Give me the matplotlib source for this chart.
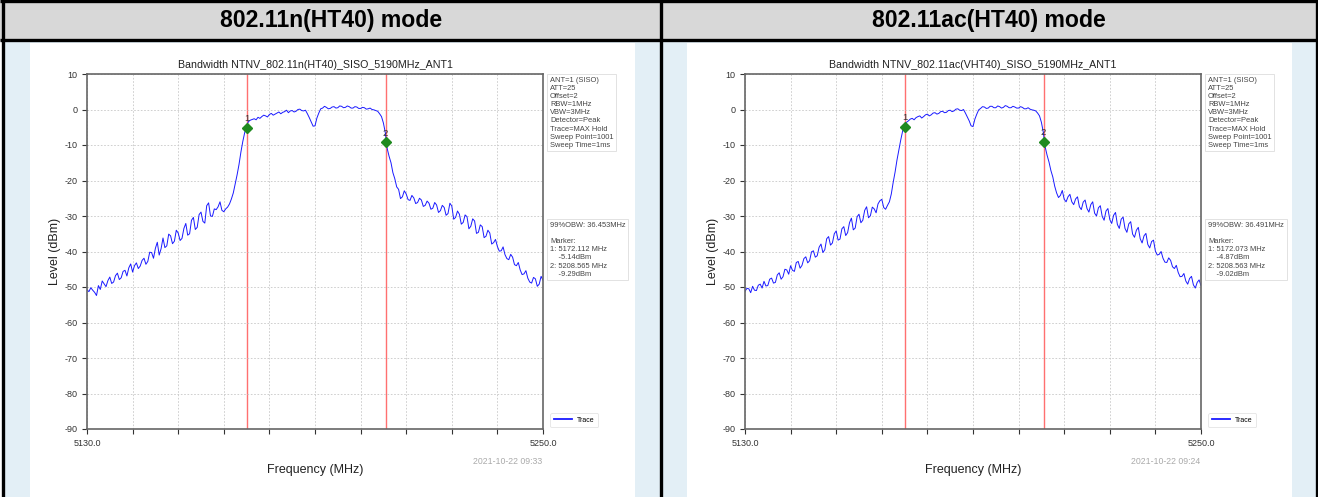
import numpy as np
import matplotlib
matplotlib.use("Agg")
import matplotlib.pyplot as plt
from matplotlib.patches import Rectangle

plt.rcParams['font.family'] = ['Liberation Sans', 'DejaVu Sans']
plt.rcParams['axes.unicode_minus'] = False

W, H = 1318, 497

# ---- data -------------------------------------------------------------
headers = ["802.11n(HT40) mode", "802.11ac(HT40) mode"]
titles = ["Bandwidth NTNV_802.11n(HT40)_SISO_5190MHz_ANT1",
          "Bandwidth NTNV_802.11ac(VHT40)_SISO_5190MHz_ANT1"]
timestamps = ["2021-10-22 09:33", "2021-10-22 09:24"]

# trace sampled every 0.5 MHz from 5130 to 5250 MHz
freq = np.arange(5130, 5250.01, 0.5)

level_n = [
    -50.8, -51.3, -50.2, -50.9, -51.5, -52.4, -49.6, -50.7, -48.3, -49.1,
    -49.9, -48.2, -47.2, -49.0, -48.6, -46.8, -46.1, -47.9, -47.4, -45.6,
    -45.3, -46.9, -44.6, -43.5, -45.8, -44.0, -43.2, -44.8, -44.1, -42.5,
    -41.9, -43.6, -42.8, -40.2, -40.3, -41.9, -39.1, -37.4, -41.0, -39.2,
    -36.2, -38.9, -38.4, -35.1, -35.6, -37.8, -37.1, -34.0, -34.8, -36.9,
    -36.3, -33.5, -32.1, -35.4, -35.0, -31.2, -30.4, -33.8, -33.2, -29.6,
    -28.9, -31.5, -32.0, -27.1, -26.3, -30.0, -30.1, -28.0, -28.2, -27.4,
    -26.0, -28.4, -28.8, -28.0, -27.5, -26.6, -25.2, -23.5, -21.0, -18.4,
    -15.5, -12.0, -9.0, -6.5, -4.5, -3.4, -3.0, -2.8, -2.6, -2.9,
    -2.2, -2.5, -2.0, -1.6, -1.8, -2.1, -1.4, -1.1, -1.6, -1.3,
    -1.0, -0.7, -1.2, -0.8, -0.6, -0.2, -0.9, -0.4, -0.3, -0.7,
    -0.5, 0.0, 0.1, -0.3, -0.4, -0.2, -1.2, -2.3, -3.5, -4.7,
    -4.6, -2.4, -1.0, 0.2, 0.4, 0.9, 0.6, 0.2, 0.3, 0.7,
    0.8, 0.4, 0.5, 1.0, 0.9, 0.5, 0.6, 1.0, 0.8, 0.4,
    0.4, 0.8, 0.7, 0.3, 0.3, 0.6, 0.5, 0.1, 0.2, 0.4,
    0.0, -0.1, -0.3, -0.5, -1.2, -2.0, -3.8, -6.5, -11.0, -13.2,
    -15.0, -17.8, -19.5, -21.8, -22.5, -25.1, -24.6, -22.9, -23.8, -25.4,
    -25.6, -24.2, -24.9, -26.5, -26.2, -25.0, -25.5, -27.3, -27.0, -25.8,
    -26.4, -28.1, -27.8, -26.2, -26.9, -29.0, -28.5, -27.0, -27.6, -29.8,
    -29.3, -26.4, -27.2, -30.9, -30.4, -28.6, -29.5, -32.3, -31.8, -29.7,
    -30.2, -33.6, -32.9, -30.8, -31.4, -34.9, -34.6, -32.5, -33.0, -36.1,
    -35.7, -34.0, -34.8, -37.9, -37.5, -36.6, -38.6, -39.9, -39.8, -38.7,
    -40.9, -42.0, -42.3, -40.8, -41.6, -43.7, -44.0, -43.1, -45.2, -46.5,
    -46.3, -45.4, -47.5, -48.6, -48.9, -47.3, -47.7, -49.8, -49.2, -47.0,
    -48.1,
]

level_ac = [
    -51.2, -50.4, -50.5, -51.6, -49.8, -50.9, -51.0, -49.5, -49.2, -50.3,
    -48.4, -49.7, -49.6, -47.8, -47.5, -48.9, -48.7, -46.6, -46.0, -47.8,
    -47.1, -45.0, -45.2, -46.4, -44.0, -45.3, -45.6, -43.1, -42.8, -44.7,
    -43.9, -42.0, -41.5, -43.2, -42.6, -40.1, -39.8, -41.6, -41.2, -38.8,
    -37.9, -40.3, -39.5, -36.4, -35.8, -38.2, -37.6, -35.0, -34.2, -36.8,
    -36.5, -33.6, -33.0, -35.5, -34.7, -31.9, -30.6, -33.9, -33.4, -30.2,
    -29.5, -31.9, -31.2, -28.4, -27.4, -30.5, -29.9, -27.5, -28.0, -29.1,
    -26.6, -25.7, -25.3, -27.6, -28.1, -27.0, -26.0, -23.8, -20.5, -17.6,
    -14.2, -11.3, -8.5, -6.0, -4.0, -3.6, -3.2, -2.7, -2.5, -2.9,
    -2.3, -2.0, -1.8, -2.4, -2.0, -1.5, -1.3, -1.8, -1.5, -1.0,
    -0.9, -1.3, -1.1, -0.6, -0.5, -0.9, -0.8, -0.3, -0.2, -0.6,
    -0.4, 0.1, 0.2, -0.2, -0.3, 0.0, -1.0, -2.1, -3.2, -4.6,
    -4.8, -2.7, -1.3, -0.1, 0.3, 0.8, 0.7, 0.3, 0.4, 0.9,
    0.9, 0.5, 0.5, 1.0, 0.8, 0.4, 0.6, 1.1, 0.9, 0.5,
    0.5, 0.9, 0.7, 0.4, 0.4, 0.8, 0.6, 0.2, 0.2, 0.5,
    0.1, -0.1, -0.2, -0.4, -1.0, -1.8, -3.6, -6.4, -10.6, -12.9,
    -14.8, -17.2, -19.0, -21.6, -23.5, -24.8, -24.2, -22.8, -25.3, -26.0,
    -24.6, -23.9, -26.0, -26.8, -25.2, -24.6, -27.4, -28.2, -26.1, -25.5,
    -27.9, -28.9, -26.8, -26.0, -29.2, -30.0, -27.7, -27.1, -30.1, -31.2,
    -28.6, -27.9, -31.0, -32.1, -29.8, -29.0, -32.4, -33.5, -30.9, -30.3,
    -33.5, -34.6, -32.2, -31.6, -35.1, -36.0, -34.0, -33.2, -36.4, -37.6,
    -35.6, -34.9, -38.0, -39.0, -37.2, -36.8, -39.9, -41.0, -40.8, -40.0,
    -41.9, -43.0, -43.1, -41.8, -42.5, -44.3, -44.8, -43.9, -45.9, -47.1,
    -47.0, -46.2, -48.3, -49.2, -47.6, -47.0, -49.4, -50.3, -48.7, -48.0,
    -49.6,
]

marker_freq_n = [5172.112, 5208.565]
marker_level_n = [-5.14, -9.29]
marker_freq_ac = [5172.073, 5208.563]
marker_level_ac = [-4.87, -9.02]
obw = ["36.453MHz", "36.491MHz"]

settings_text = ("ANT=1 (SISO)\nATT=25\nOffset=2\nRBW=1MHz\nVBW=3MHz\n"
                 "Detector=Peak\nTrace=MAX Hold\nSweep Point=1001\nSweep Time=1ms")

y_ticks = list(range(-90, 11, 10))
x_ticks = list(range(5130, 5251, 12))
x_ticklabels = ["5130.0"] + [""] * (len(x_ticks) - 2) + ["5250.0"]

panels = [
    (level_n, marker_freq_n, marker_level_n),
    (level_ac, marker_freq_ac, marker_level_ac),
]


def frac(x0, y0, x1, y1):
    return [x0 / W, 1 - y1 / H, (x1 - x0) / W, (y1 - y0) / H]


fig = plt.figure(figsize=(W / 100, H / 100), dpi=100)

# ---- table frame ------------------------------------------------------
bg = fig.add_axes([0, 0, 1, 1])
bg.set_xlim(0, W)
bg.set_ylim(H, 0)
bg.axis("off")
bg.add_patch(Rectangle((0, 0), W, 41, facecolor="#d8d8d8", edgecolor="none"))
bg.add_patch(Rectangle((3, 41), 658, H - 41, facecolor="#e3eff6", edgecolor="none"))
bg.add_patch(Rectangle((662, 41), 654, H - 41, facecolor="#e3eff6", edgecolor="none"))
bg.add_patch(Rectangle((30, 43), 605, H - 43, facecolor="white", edgecolor="none"))
bg.add_patch(Rectangle((687, 43), 605, H - 43, facecolor="white", edgecolor="none"))
for y in (1.2, 40):
    bg.plot([0, W], [y, y], color="black", lw=2.4, solid_capstyle="butt")
for x in (2.5, 661, 1316.5):
    bg.plot([x, x], [0, H], color="black", lw=2.4, solid_capstyle="butt")
for cx, txt in zip((331, 989), headers):
    bg.text(cx, 21, txt, ha="center", va="center", fontsize=16.6,
            fontweight="bold", color="black")

# ---- spectrum panels --------------------------------------------------
offsets = [0, 658]
for k, (levels, mf, ml) in enumerate(panels):
    dx = offsets[k]
    ax = fig.add_axes(frac(87 + dx, 74, 543 + dx, 429))
    ax.set_xlim(5130, 5250)
    ax.set_ylim(-90, 10)
    ax.plot(freq, levels, color="#1a1aff", lw=0.7, label="Trace")
    for f, l, num in zip(mf, ml, ("1", "2")):
        ax.axvline(f, color="#ff7070", lw=1.0, zorder=1)
        ax.plot([f], [l], marker="D", color="#1f8a1f", markersize=4.6, zorder=4)
        ax.annotate(num, (f, l), xytext=(0, 3.5), textcoords="offset points",
                    ha="center", va="bottom", fontsize=6.8, color="#333333")
    ax.set_yticks(y_ticks)
    ax.set_xticks(x_ticks)
    ax.set_xticklabels(x_ticklabels)
    ax.grid(True, linestyle=(0, (2, 2)), color="#c8c8c8", lw=0.6)
    ax.tick_params(labelsize=6.5, colors="#333333", length=3.5, width=0.8)
    for sp in ax.spines.values():
        sp.set_color("#666666")
        sp.set_linewidth(1.2)
    ax.set_title(titles[k], fontsize=7.7, color="#222222", pad=4)
    ax.set_xlabel("Frequency (MHz)", fontsize=9, color="#222222", labelpad=12)
    ax.set_ylabel("Level (dBm)", fontsize=9, color="#222222", labelpad=2)
    leg = ax.legend(loc="lower left", bbox_to_anchor=(1.008, -0.005),
                    fontsize=5, frameon=True, handlelength=2.6, borderpad=0.5)
    leg.get_frame().set_edgecolor("#dddddd")
    leg.get_frame().set_linewidth(0.6)
    for handle in leg.get_lines():
        handle.set_linewidth(1.3)

    box = dict(boxstyle="square,pad=0.35", facecolor="white",
               edgecolor="#dddddd", linewidth=0.6)
    fig.text((550 + dx) / W, 1 - 77 / H, settings_text, ha="left", va="top",
             fontsize=5.4, color="#444444", linespacing=1.22, bbox=box)
    marker_text = (f"99%OBW: {obw[k]}\n\nMarker:\n"
                   f"1: {mf[0]:.3f} MHz\n    {ml[0]:.2f}dBm\n"
                   f"2: {mf[1]:.3f} MHz\n    {ml[1]:.2f}dBm")
    fig.text((550 + dx) / W, 1 - 222 / H, marker_text, ha="left", va="top",
             fontsize=5.4, color="#444444", linespacing=1.22, bbox=box)
    fig.text((508 + dx) / W, 1 - 462 / H, timestamps[k], ha="center",
             va="center", fontsize=6.3, color="#aaaaaa")

fig.savefig("out.png", dpi=100)
